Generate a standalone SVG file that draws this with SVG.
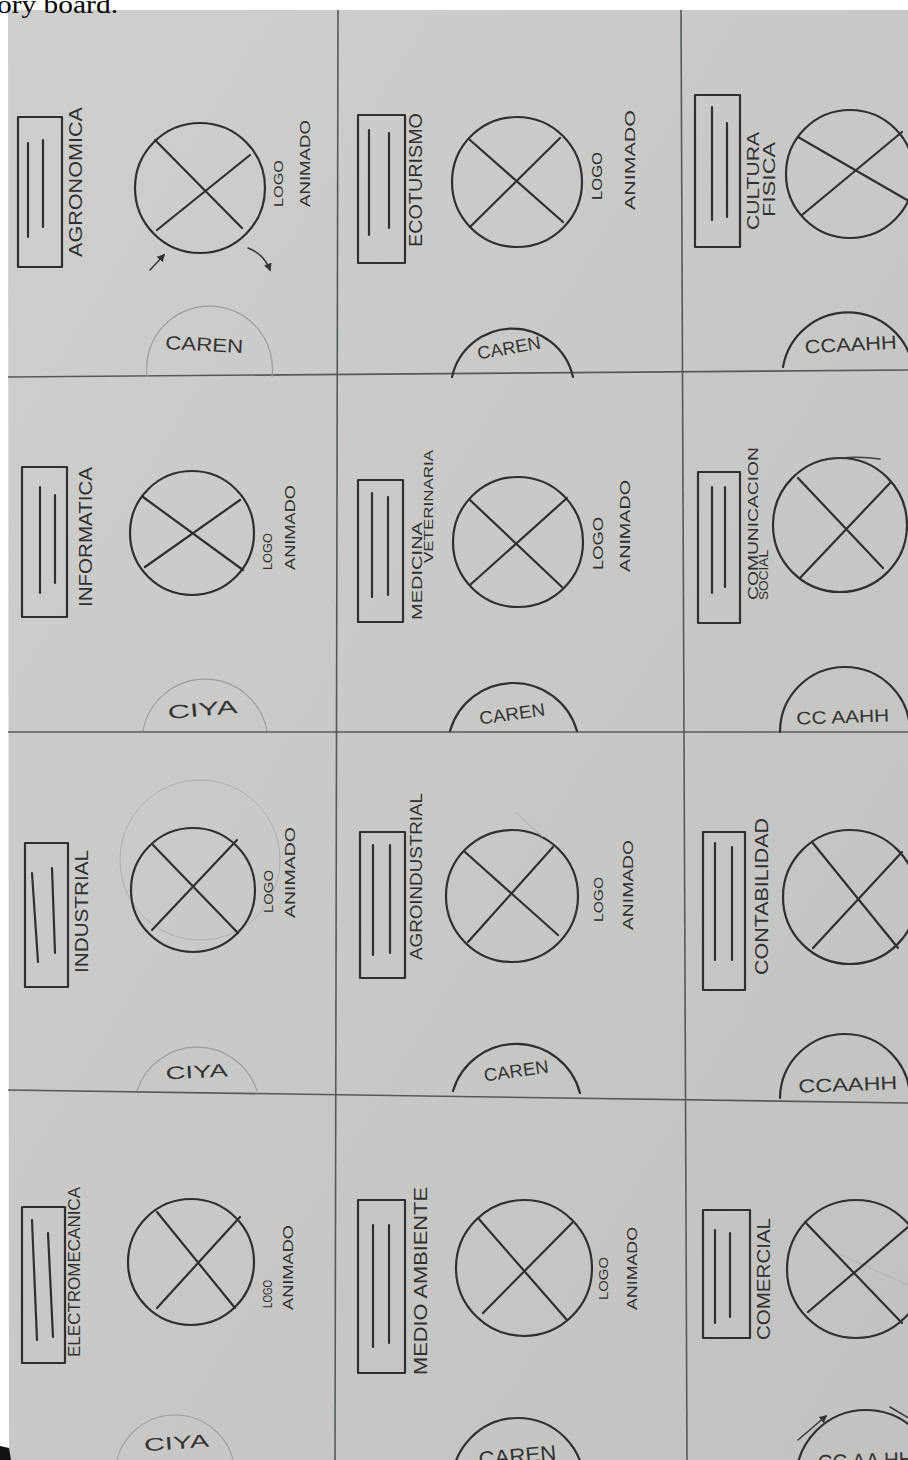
<svg xmlns="http://www.w3.org/2000/svg" width="908" height="1460" viewBox="0 0 908 1460">
<style>
.paper{fill:url(#pg)}
.grid{stroke:#555a58;stroke-width:1.6;fill:none}
.ink{stroke:#2f302f;stroke-width:2.2;fill:none;stroke-linecap:round;stroke-linejoin:round}
.thin{stroke:#3a3b3a;stroke-width:1.6;fill:none;stroke-linecap:round}
.faint{stroke:#9c9e9c;stroke-width:1.2;fill:none}
.ghost{stroke:#aeb0ae;stroke-width:1;fill:none}
.lbl{font-family:"Liberation Sans","DejaVu Sans",sans-serif;fill:#2f302f}
.cap{font-family:"Liberation Sans","DejaVu Sans",sans-serif;fill:#333433;text-anchor:middle}
</style>
<defs>
<linearGradient id="pg" x1="0" y1="0" x2="1" y2="1">
<stop offset="0" stop-color="#cfd0ce"/>
<stop offset="1" stop-color="#c2c3c1"/>
</linearGradient>
<marker id="ah" viewBox="0 0 10 10" refX="8" refY="5" markerWidth="5" markerHeight="5" orient="auto">
<path d="M0,0 L10,5 L0,10 z" fill="#333"/>
</marker>
</defs>
<rect width="908" height="1460" fill="#ffffff"/>
<polygon class="paper" points="8,10 908,10 908,1460 9,1460"/>
<polygon points="0,1446 9,1448 11,1460 0,1460" fill="#111"/>
<text x="-3" y="13" font-family="Liberation Serif, serif" font-size="25" fill="#000" textLength="121" lengthAdjust="spacingAndGlyphs">ory board.</text>

<g id="grid">
<line class="grid" x1="338" y1="10" x2="335" y2="1460"/>
<line class="grid" x1="681" y1="10" x2="687" y2="1460"/>
<line class="grid" x1="8" y1="377" x2="908" y2="370"/>
<line class="grid" x1="8" y1="732" x2="908" y2="732"/>
<line class="grid" x1="8" y1="1090" x2="908" y2="1103"/>
</g>

<g id="panel-agronomica">
<rect class="ink" x="18" y="117" width="44" height="150"/>
<line class="ink" x1="28" y1="143" x2="28" y2="237"/>
<line class="ink" x1="43" y1="140" x2="43" y2="227"/>
<text class="lbl" font-size="19" transform="translate(82,257) rotate(-90)" textLength="150" lengthAdjust="spacingAndGlyphs">AGRONOMICA</text>
<circle class="ink" cx="200" cy="188" r="65"/>
<line class="ink" x1="155" y1="140" x2="242" y2="228"/>
<line class="ink" x1="250" y1="155" x2="157" y2="230"/>
<text class="lbl" font-size="13" transform="translate(283,207) rotate(-90)" textLength="47" lengthAdjust="spacingAndGlyphs">LOGO</text>
<text class="lbl" font-size="15" transform="translate(310,207) rotate(-90)" textLength="87" lengthAdjust="spacingAndGlyphs">ANIMADO</text>
<path class="faint" d="M147,377 A63,63 0 1 1 272,377"/>
<text class="cap" font-size="19" transform="translate(204,351) rotate(3)" textLength="78" lengthAdjust="spacingAndGlyphs">CAREN</text>
<path class="thin" d="M150,270 L164,255" marker-end="url(#ah)"/>
<path class="thin" d="M248,248 Q264,254 270,270" marker-end="url(#ah)"/>
</g>

<g id="panel-ecoturismo">
<rect class="ink" x="358" y="115" width="47" height="148"/>
<line class="ink" x1="369" y1="130" x2="369" y2="235"/>
<line class="ink" x1="389" y1="133" x2="389" y2="228"/>
<text class="lbl" font-size="19" transform="translate(422,247) rotate(-90)" textLength="134" lengthAdjust="spacingAndGlyphs">ECOTURISMO</text>
<circle class="ink" cx="517" cy="182" r="65"/>
<line class="ink" x1="470" y1="140" x2="563" y2="222"/>
<line class="ink" x1="560" y1="138" x2="470" y2="227"/>
<text class="lbl" font-size="14" transform="translate(602,200) rotate(-90)" textLength="48" lengthAdjust="spacingAndGlyphs">LOGO</text>
<text class="lbl" font-size="15" transform="translate(635,210) rotate(-90)" textLength="100" lengthAdjust="spacingAndGlyphs">ANIMADO</text>
<path class="ink" d="M452,377 A62,62 0 0 1 573,377"/>
<text class="cap" font-size="18" transform="translate(510,354) rotate(-10)" textLength="64" lengthAdjust="spacingAndGlyphs">CAREN</text>
</g>

<g id="panel-cultura-fisica">
<rect class="ink" x="695" y="95" width="45" height="152"/>
<line class="ink" x1="712" y1="107" x2="712" y2="220"/>
<line class="ink" x1="727" y1="123" x2="727" y2="217"/>
<text class="lbl" font-size="17" transform="translate(759,230) rotate(-90)" textLength="98" lengthAdjust="spacingAndGlyphs">CULTURA</text>
<text class="lbl" font-size="17" transform="translate(775,217) rotate(-90)" textLength="75" lengthAdjust="spacingAndGlyphs">FISICA</text>
<circle class="ink" cx="850" cy="174" r="64"/>
<line class="ink" x1="798" y1="137" x2="907" y2="200"/>
<line class="ink" x1="902" y1="132" x2="802" y2="215"/>
<path class="ink" d="M783,367 A66,66 0 0 1 913,367"/>
<text class="cap" font-size="19" transform="translate(851,351) rotate(-3)" textLength="92" lengthAdjust="spacingAndGlyphs">CCAAHH</text>
</g>

<g id="panel-informatica">
<rect class="ink" x="22" y="467" width="45" height="150"/>
<line class="ink" x1="40" y1="487" x2="40" y2="593"/>
<line class="ink" x1="55" y1="495" x2="55" y2="583"/>
<text class="lbl" font-size="19" transform="translate(92,607) rotate(-90)" textLength="140" lengthAdjust="spacingAndGlyphs">INFORMATICA</text>
<circle class="ink" cx="192" cy="533" r="62"/>
<line class="ink" x1="143" y1="497" x2="243" y2="570"/>
<line class="ink" x1="240" y1="500" x2="145" y2="567"/>
<text class="lbl" font-size="12" transform="translate(272,570) rotate(-90)" textLength="37" lengthAdjust="spacingAndGlyphs">LOGO</text>
<text class="lbl" font-size="15" transform="translate(295,570) rotate(-90)" textLength="85" lengthAdjust="spacingAndGlyphs">ANIMADO</text>
<path class="faint" d="M143,731 A63,63 0 0 1 267,731"/>
<text class="cap" font-size="19" transform="translate(203,716) rotate(-5)" textLength="70" lengthAdjust="spacingAndGlyphs">CIYA</text>
</g>

<g id="panel-medicina-veterinaria">
<rect class="ink" x="358" y="480" width="45" height="142"/>
<line class="ink" x1="372" y1="493" x2="372" y2="597"/>
<line class="ink" x1="388" y1="497" x2="388" y2="595"/>
<text class="lbl" font-size="15" transform="translate(422,620) rotate(-90)" textLength="98" lengthAdjust="spacingAndGlyphs">MEDICINA</text>
<text class="lbl" font-size="12" transform="translate(433,563) rotate(-90)" textLength="113" lengthAdjust="spacingAndGlyphs">VETERINARIA</text>
<circle class="ink" cx="518" cy="542" r="65"/>
<line class="ink" x1="470" y1="500" x2="562" y2="587"/>
<line class="ink" x1="567" y1="498" x2="470" y2="585"/>
<text class="lbl" font-size="14" transform="translate(603,570) rotate(-90)" textLength="53" lengthAdjust="spacingAndGlyphs">LOGO</text>
<text class="lbl" font-size="15" transform="translate(630,572) rotate(-90)" textLength="92" lengthAdjust="spacingAndGlyphs">ANIMADO</text>
<path class="ink" d="M450,731 A66,66 0 0 1 577,731"/>
<text class="cap" font-size="18" transform="translate(513,720) rotate(-8)" textLength="66" lengthAdjust="spacingAndGlyphs">CAREN</text>
</g>

<g id="panel-comunicacion-social">
<rect class="ink" x="698" y="472" width="42" height="151"/>
<line class="ink" x1="712" y1="487" x2="712" y2="593"/>
<line class="ink" x1="725" y1="487" x2="725" y2="587"/>
<text class="lbl" font-size="15" transform="translate(758,600) rotate(-90)" textLength="153" lengthAdjust="spacingAndGlyphs">COMUNICACION</text>
<text class="lbl" font-size="12" transform="translate(768,600) rotate(-90)" textLength="50" lengthAdjust="spacingAndGlyphs">SOCIAL</text>
<circle class="ink" cx="840" cy="525" r="67"/>
<path class="thin" d="M823,460 Q855,455 880,459"/>
<line class="ink" x1="798" y1="478" x2="883" y2="568"/>
<line class="ink" x1="890" y1="483" x2="800" y2="578"/>
<path class="ink" d="M780,732 A65,65 0 0 1 910,732"/>
<text class="cap" font-size="18" transform="translate(843,723) rotate(-2)" textLength="93" lengthAdjust="spacingAndGlyphs">CC AAHH</text>
</g>

<g id="panel-industrial">
<rect class="ink" x="25" y="843" width="43" height="144"/>
<line class="ink" x1="32" y1="873" x2="38" y2="962"/>
<line class="ink" x1="52" y1="868" x2="55" y2="953"/>
<text class="lbl" font-size="18" transform="translate(88,973) rotate(-90)" textLength="123" lengthAdjust="spacingAndGlyphs">INDUSTRIAL</text>
<circle class="ghost" cx="200" cy="860" r="80"/>
<circle class="ink" cx="193" cy="890" r="62"/>
<line class="ink" x1="153" y1="845" x2="238" y2="933"/>
<line class="ink" x1="237" y1="840" x2="152" y2="930"/>
<text class="lbl" font-size="13" transform="translate(273,913) rotate(-90)" textLength="43" lengthAdjust="spacingAndGlyphs">LOGO</text>
<text class="lbl" font-size="15" transform="translate(295,918) rotate(-90)" textLength="91" lengthAdjust="spacingAndGlyphs">ANIMADO</text>
<path class="faint" d="M137,1091 A63,63 0 0 1 257,1091"/>
<text class="cap" font-size="18" transform="translate(197,1078) rotate(-3)" textLength="62" lengthAdjust="spacingAndGlyphs">CIYA</text>
</g>

<g id="panel-agroindustrial">
<rect class="ink" x="360" y="832" width="45" height="146"/>
<line class="ink" x1="373" y1="845" x2="373" y2="955"/>
<line class="ink" x1="390" y1="845" x2="390" y2="953"/>
<text class="lbl" font-size="17" transform="translate(422,960) rotate(-90)" textLength="167" lengthAdjust="spacingAndGlyphs">AGROINDUSTRIAL</text>
<circle class="ink" cx="512" cy="896" r="66"/>
<path class="ghost" d="M515,812 L543,837"/>
<line class="ink" x1="465" y1="852" x2="558" y2="935"/>
<line class="ink" x1="553" y1="847" x2="468" y2="942"/>
<text class="lbl" font-size="13" transform="translate(603,922) rotate(-90)" textLength="45" lengthAdjust="spacingAndGlyphs">LOGO</text>
<text class="lbl" font-size="15" transform="translate(633,930) rotate(-90)" textLength="90" lengthAdjust="spacingAndGlyphs">ANIMADO</text>
<path class="ink" d="M453,1091 A66,66 0 0 1 580,1093"/>
<text class="cap" font-size="18" transform="translate(517,1077) rotate(-8)" textLength="65" lengthAdjust="spacingAndGlyphs">CAREN</text>
</g>

<g id="panel-contabilidad">
<rect class="ink" x="703" y="832" width="42" height="158"/>
<line class="ink" x1="715" y1="843" x2="715" y2="960"/>
<line class="ink" x1="732" y1="847" x2="732" y2="960"/>
<text class="lbl" font-size="18" transform="translate(768,975) rotate(-90)" textLength="157" lengthAdjust="spacingAndGlyphs">CONTABILIDAD</text>
<circle class="ink" cx="850" cy="897" r="67"/>
<line class="ink" x1="812" y1="842" x2="898" y2="948"/>
<line class="ink" x1="902" y1="852" x2="813" y2="948"/>
<path class="ink" d="M780,1098 A65,65 0 0 1 910,1100"/>
<text class="cap" font-size="19" transform="translate(848,1091) rotate(-2)" textLength="99" lengthAdjust="spacingAndGlyphs">CCAAHH</text>
</g>

<g id="panel-electromecanica">
<rect class="ink" x="22" y="1207" width="43" height="156"/>
<line class="ink" x1="32" y1="1220" x2="37" y2="1340"/>
<line class="ink" x1="48" y1="1233" x2="53" y2="1337"/>
<text class="lbl" font-size="16" transform="translate(80,1357) rotate(-90)" textLength="170" lengthAdjust="spacingAndGlyphs">ELECTROMECANICA</text>
<circle class="ink" cx="191" cy="1262" r="63"/>
<line class="ink" x1="157" y1="1212" x2="235" y2="1308"/>
<line class="ink" x1="240" y1="1217" x2="157" y2="1308"/>
<text class="lbl" font-size="12" transform="translate(272,1308) rotate(-90)" textLength="28" lengthAdjust="spacingAndGlyphs">LOGO</text>
<text class="lbl" font-size="15" transform="translate(293,1310) rotate(-90)" textLength="85" lengthAdjust="spacingAndGlyphs">ANIMADO</text>
<circle class="faint" cx="175" cy="1475" r="60"/>
<text class="cap" font-size="18" transform="translate(177,1449) rotate(-4)" textLength="65" lengthAdjust="spacingAndGlyphs">CIYA</text>
</g>

<g id="panel-medio-ambiente">
<rect class="ink" x="358" y="1200" width="47" height="173"/>
<line class="ink" x1="373" y1="1225" x2="373" y2="1347"/>
<line class="ink" x1="389" y1="1225" x2="389" y2="1343"/>
<text class="lbl" font-size="18" transform="translate(427,1375) rotate(-90)" textLength="188" lengthAdjust="spacingAndGlyphs">MEDIO AMBIENTE</text>
<circle class="ink" cx="524" cy="1268" r="68"/>
<line class="ink" x1="478" y1="1218" x2="567" y2="1320"/>
<line class="ink" x1="572" y1="1223" x2="483" y2="1313"/>
<text class="lbl" font-size="12" transform="translate(608,1300) rotate(-90)" textLength="43" lengthAdjust="spacingAndGlyphs">LOGO</text>
<text class="lbl" font-size="15" transform="translate(637,1310) rotate(-90)" textLength="83" lengthAdjust="spacingAndGlyphs">ANIMADO</text>
<circle class="ink" cx="518" cy="1484" r="66"/>
<text class="cap" font-size="21" transform="translate(518,1463) rotate(-5)" textLength="78" lengthAdjust="spacingAndGlyphs">CAREN</text>
</g>

<g id="panel-comercial">
<rect class="ink" x="703" y="1210" width="47" height="128"/>
<line class="ink" x1="715" y1="1230" x2="715" y2="1323"/>
<line class="ink" x1="730" y1="1233" x2="730" y2="1317"/>
<text class="lbl" font-size="18" transform="translate(770,1340) rotate(-90)" textLength="122" lengthAdjust="spacingAndGlyphs">COMERCIAL</text>
<circle class="ink" cx="856" cy="1269" r="69"/>
<line class="ghost" x1="830" y1="1250" x2="908" y2="1285"/>
<line class="ink" x1="805" y1="1222" x2="902" y2="1323"/>
<line class="ink" x1="908" y1="1227" x2="808" y2="1312"/>
<circle class="ink" cx="866" cy="1480" r="70"/>
<path class="thin" d="M798,1440 L826,1416" marker-end="url(#ah)"/>
<path class="thin" d="M890,1407 L912,1420"/>
<text class="cap" font-size="21" transform="translate(866,1468) rotate(-2)" textLength="96" lengthAdjust="spacingAndGlyphs">CC AA HH</text>
</g>
</svg>
